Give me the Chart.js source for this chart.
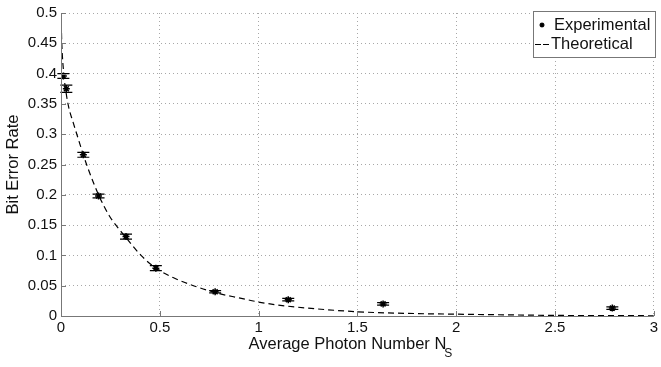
<!DOCTYPE html>
<html>
<head>
<meta charset="utf-8">
<script src="https://cdn.jsdelivr.net/npm/chart.js@4"></script>
<style>
  html, body { margin: 0; padding: 0; background: #fff; }
  #wrap { width: 661px; height: 367px; position: relative; }
</style>
</head>
<body>
<div id="wrap"><canvas id="myChart" width="661" height="367"></canvas></div>
<script>
// measured points (with error bars)
var expN = [0.012, 0.027, 0.113, 0.19, 0.329, 0.48, 0.78, 1.15, 1.63, 2.79];
var expBER = [0.396, 0.375, 0.266, 0.198, 0.131, 0.079, 0.040, 0.027, 0.020, 0.013];
var expErr = [0.004, 0.006, 0.004, 0.003, 0.004, 0.004, 0.002, 0.002, 0.002, 0.002];

// theoretical curve
var thN = [0, 0.004, 0.014, 0.026, 0.04, 0.06, 0.08, 0.113, 0.135, 0.19, 0.245, 0.28, 0.33, 0.405, 0.48, 0.57, 0.67, 0.8, 0.9, 1.0, 1.1, 1.25, 1.5, 1.8, 2.0, 2.5, 3.0];
var thBER = [0.5, 0.45, 0.40, 0.368, 0.343, 0.321, 0.30, 0.266, 0.245, 0.200, 0.165, 0.149, 0.129, 0.100, 0.079, 0.063, 0.050, 0.037, 0.030, 0.023, 0.018, 0.013, 0.007, 0.004, 0.003, 0.001, 0.0004];

var xTicks = [0, 0.5, 1, 1.5, 2, 2.5, 3];
var yTicks = [0, 0.05, 0.1, 0.15, 0.2, 0.25, 0.3, 0.35, 0.4, 0.45, 0.5];

var labels = ["Experimental", "Theoretical"];
var xTitle = "Average Photon Number N";
var xTitleSub = "S";
var yTitle = "Bit Error Rate";

var FONT = "Liberation Sans, Arial, Helvetica, sans-serif";

var expData = expN.map((n, i) => ({ x: n, y: expBER[i] }));
var thData = thN.map((n, i) => ({ x: n, y: thBER[i] }));

// error bars, titles, inward ticks and legend box
var extras = {
  id: 'extras',
  beforeDatasetsDraw(chart) {
    var ctx = chart.ctx, xs = chart.scales.x, ys = chart.scales.y;
    ctx.save();
    ctx.strokeStyle = '#000';
    ctx.lineWidth = 1.2;
    expN.forEach((n, i) => {
      var px = xs.getPixelForValue(n);
      var top = ys.getPixelForValue(expBER[i] + expErr[i]);
      var bot = ys.getPixelForValue(expBER[i] - expErr[i]);
      ctx.beginPath();
      ctx.moveTo(px, top); ctx.lineTo(px, bot);
      ctx.moveTo(px - 6, top); ctx.lineTo(px + 6, top);
      ctx.moveTo(px - 6, bot); ctx.lineTo(px + 6, bot);
      ctx.stroke();
    });
    ctx.restore();
  },
  afterDraw(chart) {
    var ctx = chart.ctx, xs = chart.scales.x, ys = chart.scales.y;
    var a = chart.chartArea;
    ctx.save();
    // axis lines + inward ticks
    ctx.strokeStyle = '#777';
    ctx.lineWidth = 1;
    ctx.beginPath();
    ctx.moveTo(a.left + 0.5, a.top); ctx.lineTo(a.left + 0.5, a.bottom + 0.5);
    ctx.lineTo(a.right, a.bottom + 0.5);
    xTicks.forEach(t => {
      var px = Math.round(xs.getPixelForValue(t)) + 0.5;
      ctx.moveTo(px, a.bottom); ctx.lineTo(px, a.bottom - 5);
    });
    yTicks.forEach(t => {
      var py = Math.round(ys.getPixelForValue(t)) + 0.5;
      ctx.moveTo(a.left, py); ctx.lineTo(a.left + 5, py);
    });
    ctx.stroke();

    // titles
    ctx.fillStyle = '#111';
    ctx.font = '16.5px ' + FONT;
    var w1 = ctx.measureText(xTitle).width;
    ctx.font = '12px ' + FONT;
    var w2 = ctx.measureText(xTitleSub).width;
    var cx = (a.left + a.right) / 2 - 6;
    var sx = cx - (w1 + w2) / 2;
    ctx.textBaseline = 'middle';
    ctx.textAlign = 'left';
    ctx.font = '16.5px ' + FONT;
    ctx.fillText(xTitle, sx, 344);
    ctx.font = '12px ' + FONT;
    ctx.fillText(xTitleSub, sx + w1 - 2, 354);

    ctx.save();
    ctx.translate(13, (a.top + a.bottom) / 2);
    ctx.rotate(-Math.PI / 2);
    ctx.textAlign = 'center';
    ctx.font = '16.5px ' + FONT;
    ctx.fillText(yTitle, 0, 0);
    ctx.restore();

    // legend box
    var lx = 533, ly = 11, lw = 122, lh = 46;
    ctx.fillStyle = '#fff';
    ctx.fillRect(lx, ly, lw, lh);
    ctx.strokeStyle = '#777';
    ctx.strokeRect(lx + 0.5, ly + 0.5, lw, lh);
    ctx.fillStyle = '#111';
    ctx.font = '16.5px ' + FONT;
    ctx.textAlign = 'left';
    ctx.fillText(labels[0], 554, 25);
    ctx.fillText(labels[1], 551, 44);
    // star marker
    ctx.strokeStyle = '#000';
    ctx.lineWidth = 1.3;
    ctx.beginPath();
    for (var k = 0; k < 4; k++) {
      var ang = k * Math.PI / 4;
      ctx.moveTo(542 - 2.5 * Math.cos(ang), 25 - 2.5 * Math.sin(ang));
      ctx.lineTo(542 + 2.5 * Math.cos(ang), 25 + 2.5 * Math.sin(ang));
    }
    ctx.stroke();
    // dashed sample
    ctx.lineWidth = 1.2;
    ctx.beginPath();
    ctx.moveTo(535, 44.5); ctx.lineTo(541, 44.5);
    ctx.moveTo(543, 44.5); ctx.lineTo(549, 44.5);
    ctx.stroke();
    ctx.restore();
  }
};

createChart = () => {
  chart = new Chart(document.getElementById("myChart"), {
    type: 'scatter',
    data: {
      datasets: [
        {
          label: labels[0],
          data: expData,
          pointStyle: 'star',
          pointRadius: 3.5,
          pointBorderWidth: 1.5,
          borderColor: '#000',
          backgroundColor: '#000',
          showLine: false,
          order: 0
        },
        {
          label: labels[1],
          data: thData,
          showLine: true,
          pointRadius: 0,
          borderColor: '#000',
          borderWidth: 1.2,
          borderDash: [6, 4],
          cubicInterpolationMode: 'monotone',
          fill: false,
          order: 1
        }
      ]
    },
    options: {
      responsive: false,
      animation: false,
      events: [],
      layout: { padding: { top: 9, right: 5, left: 0, bottom: 0 } },
      plugins: { legend: { display: false }, tooltip: { enabled: false } },
      scales: {
        x: {
          type: 'linear',
          min: 0, max: 3,
          afterFit: s => { s.height = 51; },
          afterBuildTicks: s => { s.ticks = xTicks.map(v => ({ value: v })); },
          grid: { color: '#a8a8a8', lineWidth: 1, drawTicks: false },
          border: { display: false, dash: [1, 3] },
          ticks: {
            color: '#111', padding: 3,
            font: { family: FONT, size: 15 },
            callback: v => String(v)
          }
        },
        y: {
          type: 'linear',
          min: 0, max: 0.5,
          afterFit: s => { s.width = 61; },
          afterBuildTicks: s => { s.ticks = yTicks.map(v => ({ value: v })); },
          grid: { color: '#a8a8a8', lineWidth: 1, drawTicks: false },
          border: { display: false, dash: [1, 3] },
          ticks: {
            color: '#111', padding: 4,
            font: { family: FONT, size: 15 },
            callback: v => String(v)
          }
        }
      }
    },
    plugins: [extras]
  });
}

createChart();
</script>
</body>
</html>
